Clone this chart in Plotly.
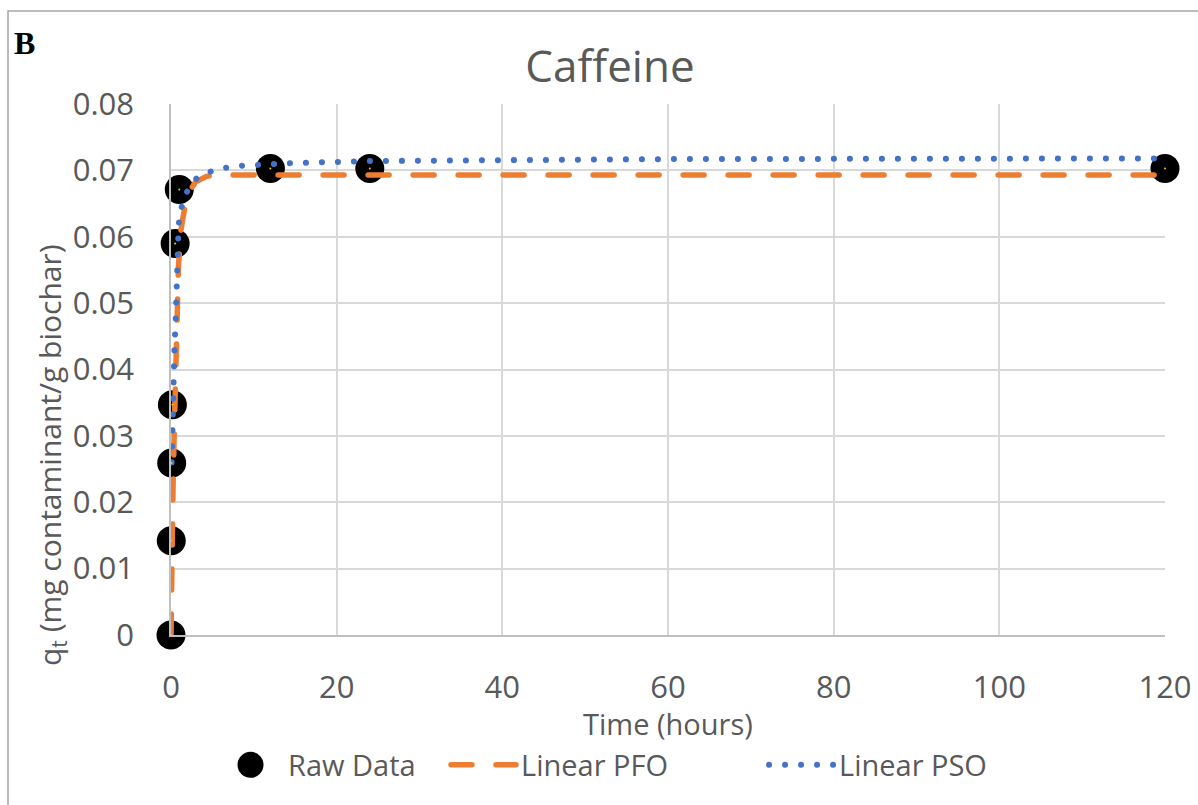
import plotly.graph_objects as go

# ---- data ----
raw_t = [0, 0.033, 0.083, 0.167, 0.5, 1, 12, 24, 120]
raw_q = [0, 0.0142, 0.0259, 0.0347, 0.059, 0.0671, 0.0703, 0.0703, 0.0703]

pfo_t = [0, 0.05, 0.1, 0.25, 0.4, 0.55, 0.7, 0.9, 1.2, 1.6, 2.2, 3, 4.3, 6, 12, 24, 60, 120]
pfo_q = [0, 0.008, 0.015, 0.0225, 0.031, 0.0385, 0.047, 0.0555, 0.061, 0.064, 0.0668,
         0.0683, 0.0691, 0.0693, 0.0693, 0.0693, 0.0693, 0.0693]

pso_t = [0.08, 0.12, 0.32, 0.4, 0.56, 0.68, 0.8, 0.93, 1.29, 2, 3, 4.75, 6.6, 8.6, 14.5, 24, 60, 120]
pso_q = [0.026, 0.0303, 0.0375, 0.0425, 0.0473, 0.0523, 0.057, 0.062, 0.0645, 0.0670, 0.0687,
         0.0698, 0.0704, 0.0707, 0.0711, 0.0714, 0.0717, 0.0718]

x_ticks = [0, 20, 40, 60, 80, 100, 120]
y_ticks = [0, 0.01, 0.02, 0.03, 0.04, 0.05, 0.06, 0.07, 0.08]
y_ticklabels = ["0", "0.01", "0.02", "0.03", "0.04", "0.05", "0.06", "0.07", "0.08"]

TXT = "#595959"
FONT = "Open Sans"

fig = go.Figure()

fig.add_trace(go.Scatter(
    x=raw_t, y=raw_q, mode="markers", name="Raw Data",
    marker=dict(size=29, color="black"), cliponaxis=False, legendwidth=153,
))
fig.add_trace(go.Scatter(
    x=pfo_t, y=pfo_q, mode="lines", name="Linear PFO",
    line=dict(color="#ED7D31", width=5.5, dash="21px,24px"), cliponaxis=False,
    legendwidth=238,
))
fig.add_trace(go.Scatter(
    x=pso_t, y=pso_q, mode="lines", name="Linear PSO",
    line=dict(color="#4472C4", width=6, dash="0.1px,15.9px"), cliponaxis=False,
))
# tiny centre dots of the raw markers
fig.add_trace(go.Scatter(
    x=raw_t, y=raw_q, mode="markers", showlegend=False, hoverinfo="skip",
    marker=dict(size=2, color="#FFC000"), cliponaxis=False,
))

L, R, T, B = 171, 33, 104, 170
W, H = 1198, 805
pw, ph = W - L - R, H - T - B

def px(x):
    return (x - L) / pw

def py(y):
    return (H - B - y) / ph

fig.update_layout(
    width=W, height=H,
    margin=dict(l=L, r=R, t=T, b=B, autoexpand=False),
    paper_bgcolor="white", plot_bgcolor="white",
    font=dict(family=FONT, color=TXT, size=29),
    title=dict(text="Caffeine", x=610 / W, xref="container", xanchor="center",
               y=(H - 67) / H, yref="container", yanchor="middle",
               font=dict(size=44, color=TXT, family=FONT)),
    xaxis=dict(range=[0, 120], tickvals=x_ticks, showgrid=True, gridcolor="#d9d9d9",
               gridwidth=1.5, showline=True, linecolor="#bfbfbf", linewidth=1.5,
               zeroline=False, tickfont=dict(size=31, color=TXT), ticks="",
               ticklabelstandoff=24),
    yaxis=dict(range=[0, 0.08], tickvals=y_ticks, ticktext=y_ticklabels, showgrid=True,
               gridcolor="#d9d9d9", gridwidth=1.5, showline=True, linecolor="#bfbfbf",
               linewidth=1.5, zeroline=False, tickfont=dict(size=31, color=TXT), ticks="",
               ticklabelstandoff=29),
    showlegend=True,
    legend=dict(orientation="h", x=px(213), xanchor="left", y=py(765), yanchor="middle",
                itemwidth=65,
                font=dict(size=29, color=TXT, family=FONT), bgcolor="rgba(0,0,0,0)"),
    annotations=[
        dict(text="Time (hours)", x=0.5, xref="paper", y=py(723), yref="paper",
             xanchor="center", yanchor="middle", showarrow=False,
             font=dict(size=29, color=TXT, family=FONT)),
        dict(text="q<sub>t</sub> (mg contaminant/g biochar)", x=px(51), xref="paper",
             y=py(455), yref="paper", xanchor="center", yanchor="middle",
             textangle=-90, showarrow=False, font=dict(size=30, color=TXT, family=FONT)),
        dict(text="<b>B</b>", x=px(12), xref="paper", y=py(43), yref="paper",
             xanchor="left", yanchor="middle", showarrow=False,
             font=dict(size=32, color="black", family="Liberation Serif")),
    ],
    shapes=[
        dict(type="rect", xref="paper", yref="paper", x0=px(8), x1=px(1210),
             y0=py(820), y1=py(11), line=dict(color="#a6a6a6", width=1.5),
             layer="below"),
    ],
)

post = """
var gd = document.getElementById('{plot_id}');
function rc(){
  gd.querySelectorAll('path.js-line').forEach(function(p){p.style.strokeLinecap='round';});
  gd.querySelectorAll('.legend path.scatterpts, .legend .legendpoints path').forEach(function(p){
    p.setAttribute('d','M13,0A13,13 0 1,1 0,-13A13,13 0 0,1 13,0Z');
  });
}
rc(); setTimeout(rc, 50); setTimeout(rc, 300);
"""
fig.write_html("out.html", post_script=post)
